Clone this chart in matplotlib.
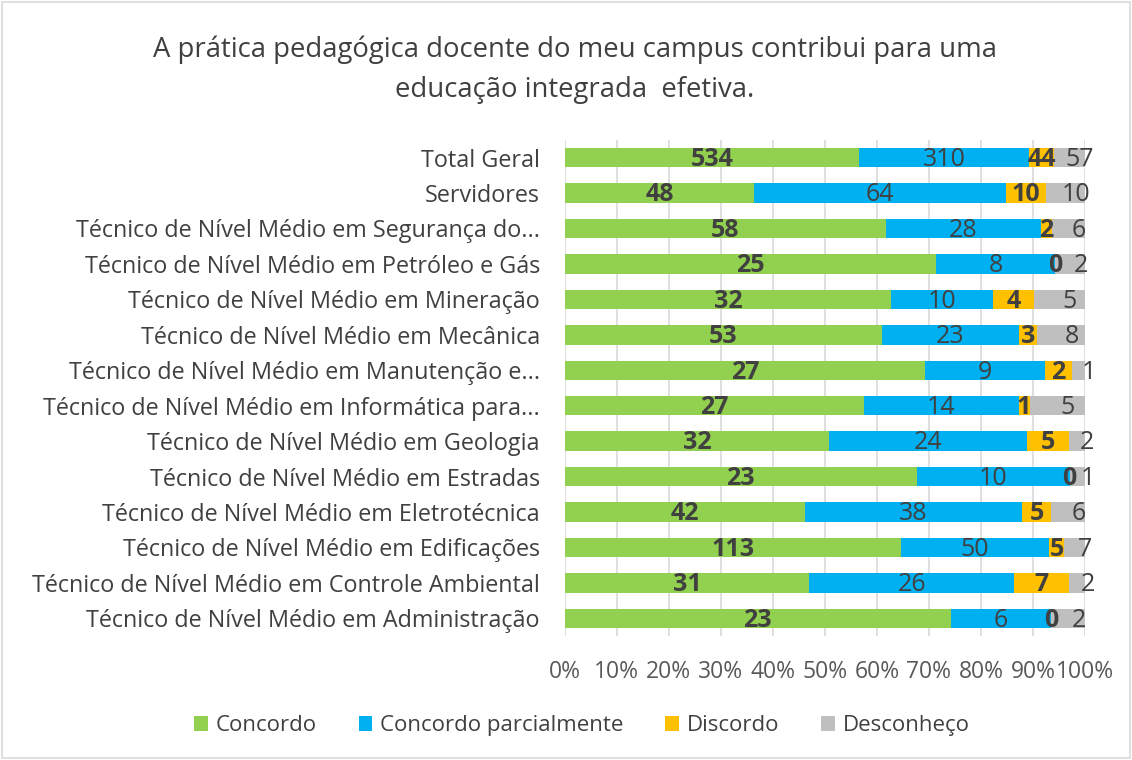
import numpy as np
import matplotlib.pyplot as plt
from matplotlib.patches import Rectangle

categories = [
    "Total Geral",
    "Servidores",
    "Técnico de Nível Médio em Segurança do...",
    "Técnico de Nível Médio em Petróleo e Gás",
    "Técnico de Nível Médio em Mineração",
    "Técnico de Nível Médio em Mecânica",
    "Técnico de Nível Médio em Manutenção e...",
    "Técnico de Nível Médio em Informática para...",
    "Técnico de Nível Médio em Geologia",
    "Técnico de Nível Médio em Estradas",
    "Técnico de Nível Médio em Eletrotécnica",
    "Técnico de Nível Médio em Edificações",
    "Técnico de Nível Médio em Controle Ambiental",
    "Técnico de Nível Médio em Administração",
]
concordo = [534, 48, 58, 25, 32, 53, 27, 27, 32, 23, 42, 113, 31, 23]
parcial = [310, 64, 28, 8, 10, 23, 9, 14, 24, 10, 38, 50, 26, 6]
discordo = [44, 10, 2, 0, 4, 3, 2, 1, 5, 0, 5, 5, 7, 0]
desconheco = [57, 10, 6, 2, 5, 8, 1, 5, 2, 1, 6, 7, 2, 2]

series = ["Concordo", "Concordo parcialmente", "Discordo", "Desconheço"]
colors = ["#92D050", "#00B0F0", "#FFC000", "#BFBFBF"]
bold = [True, False, True, False]

plt.rcParams['font.family'] = ['Open Sans', 'DejaVu Sans']

fig = plt.figure(figsize=(11.32, 7.6), dpi=100)
fig.patches.append(Rectangle((0.002, 0.002), 0.996, 0.996, transform=fig.transFigure,
                             fill=False, edgecolor="#D9D9D9", linewidth=1.2))
ax = fig.add_axes([0.499, 0.163, 0.4595, 0.653])

data = np.array([concordo, parcial, discordo, desconheco], dtype=float)
totals = data.sum(axis=0)
pct = data / totals
y = np.arange(len(categories))

left = np.zeros(len(categories))
for i, name in enumerate(series):
    ax.barh(y, pct[i], left=left, height=0.55, color=colors[i], label=name, zorder=2)
    for j in range(len(categories)):
        xc = left[j] + pct[i][j] / 2
        if i == 3:
            xc += 0.02
        ax.text(xc, y[j] + 0.05, str(int(data[i][j])), ha="center", va="center",
                fontsize=18, color="#404040",
                fontweight="bold" if bold[i] else "normal", zorder=3)
    left += pct[i]

ax.set_ylim(len(categories) - 0.5, -0.5)
ax.set_xlim(0, 1)
ax.set_yticks(y)
ax.set_yticklabels(categories, fontsize=16.8, color="#404040")
ax.set_xticks(np.linspace(0, 1, 11))
ax.set_xticklabels([f"{int(v)}%" for v in np.linspace(0, 100, 11)], fontsize=16.5, color="#595959")
ax.tick_params(length=0)
ax.tick_params(axis="x", pad=17)
ax.tick_params(axis="y", pad=18)
ax.grid(axis="x", color="#D9D9D9", linewidth=1.2, zorder=0)
for s in ax.spines.values():
    s.set_visible(False)

fig.text(0.508, 0.935, "A prática pedagógica docente do meu campus contribui para uma",
         ha="center", va="center", fontsize=19.8, color="#404040")
fig.text(0.508, 0.882, "educação integrada  efetiva.",
         ha="center", va="center", fontsize=19.8, color="#404040")

fig.legend(loc="center", bbox_to_anchor=(0.514, 0.045), ncol=4, frameon=False,
           fontsize=16, handlelength=0.6, handleheight=0.6, columnspacing=1.9,
           handletextpad=0.35, labelcolor="#404040")

fig.savefig("out.png", dpi=100)
